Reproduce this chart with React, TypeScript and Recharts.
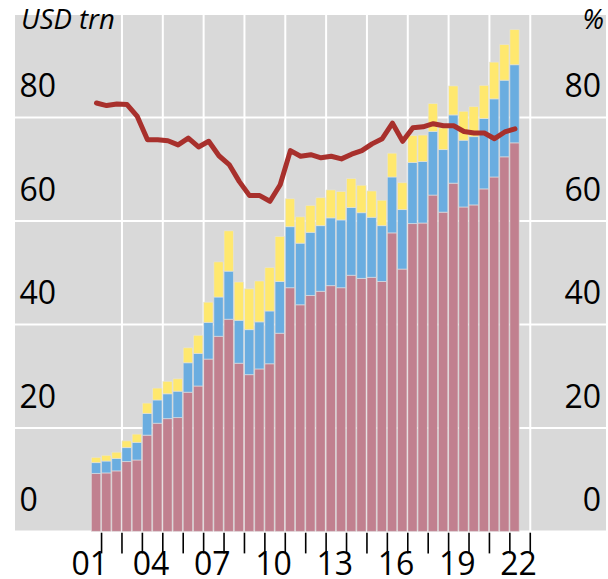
import { ComposedChart, Bar, Line, XAxis, YAxis, CartesianGrid, ReferenceLine } from 'recharts'

// half-year observations, H2 2001 to H1 2022
const periods = [
  'H2 01', 'H1 02', 'H2 02', 'H1 03', 'H2 03', 'H1 04', 'H2 04', 'H1 05', 'H2 05', 'H1 06', 'H2 06',
  'H1 07', 'H2 07', 'H1 08', 'H2 08', 'H1 09', 'H2 09', 'H1 10', 'H2 10', 'H1 11', 'H2 11',
  'H1 12', 'H2 12', 'H1 13', 'H2 13', 'H1 14', 'H2 14', 'H1 15', 'H2 15', 'H1 16', 'H2 16',
  'H1 17', 'H2 17', 'H1 18', 'H2 18', 'H1 19', 'H2 19', 'H1 20', 'H2 20', 'H1 21', 'H2 21', 'H1 22',
]

// USD trn
const fxSwaps = [
  11.2, 11.3, 11.7, 13.5, 13.8, 18.6, 20.9, 21.8, 22.0, 26.9, 28.1,
  33.3, 37.7, 41.0, 32.5, 30.3, 31.4, 32.4, 38.3, 47.1, 43.8,
  45.6, 46.4, 47.5, 47.1, 49.5, 48.9, 49.1, 48.3, 57.7, 50.7,
  59.5, 59.6, 65.0, 61.7, 67.3, 62.7, 63.1, 66.2, 68.5, 72.4, 75.1,
]
const forwards = [
  2.1, 2.3, 2.4, 2.7, 3.4, 4.2, 4.5, 4.8, 5.1, 5.7, 6.3,
  7.1, 7.6, 9.3, 8.3, 8.7, 9.1, 10.2, 10.0, 11.8, 11.9,
  12.2, 12.7, 13.1, 13.1, 13.1, 12.7, 11.6, 10.8, 10.8, 11.5,
  11.8, 11.9, 12.3, 12.1, 13.2, 12.9, 13.2, 13.6, 15.1, 14.8, 15.1,
]
const currencySwaps = [
  1.0, 1.1, 1.2, 1.3, 1.6, 2.0, 2.3, 2.4, 2.4, 2.9, 3.5,
  3.9, 6.8, 7.8, 7.4, 7.9, 7.9, 8.4, 8.7, 5.4, 5.1,
  5.2, 5.4, 5.4, 5.5, 5.6, 5.3, 5.1, 4.9, 4.6, 5.2,
  5.2, 5.1, 5.4, 4.2, 5.6, 5.6, 5.8, 6.4, 7.1, 6.9, 6.8,
]
// %
const usdShare = [
  82.8, 82.3, 82.6, 82.5, 80.2, 75.7, 75.7, 75.5, 74.7, 76.0, 74.3,
  75.4, 72.6, 70.9, 67.6, 64.9, 64.9, 63.8, 67.0, 73.6, 72.5,
  72.8, 72.2, 72.5, 72.0, 72.9, 73.6, 74.9, 75.9, 78.9, 75.4,
  78.0, 78.2, 78.8, 78.4, 78.4, 77.3, 77.0, 77.0, 75.9, 77.2, 77.8,
]

const yTicks = [0, 20, 40, 60, 80]
const yearTicks = [
  2002, 2003, 2004, 2005, 2006, 2007, 2008, 2009, 2010, 2011, 2012,
  2013, 2014, 2015, 2016, 2017, 2018, 2019, 2020, 2021, 2022, 2023,
]
const gridYears = [2003, 2005, 2007, 2009, 2011, 2013, 2015, 2017, 2019, 2021, 2023]
const labelYears = [2001, 2004, 2007, 2010, 2013, 2016, 2019, 2022]

// position of each half year on a continuous year axis (mid-period)
const toTime = (p: string) => 2000 + Number(p.slice(3)) + (p.startsWith('H1') ? 0.25 : 0.75)

const data = periods.map((period, i) => ({
  period,
  t: toTime(period),
  fxSwaps: fxSwaps[i],
  forwards: forwards[i],
  currencySwaps: currencySwaps[i],
  usdShare: usdShare[i],
}))

// year labels sit in the middle of their year, tick marks on year boundaries
const xTicks = [...yearTicks, ...labelYears.map((y) => y + 0.5)].sort((a, b) => a - b)

const YEAR_DOMAIN: [number, number] = [1997.76, 2026.71]
const FONT = '"Open Sans", "Noto Sans", sans-serif'

function LeftTick({ x, y, payload }: any) {
  return (
    <text x={x} y={y - 20} textAnchor="start" fontSize={32} fontFamily={FONT} fill="#000">
      {payload.value}
    </text>
  )
}

function RightTick({ x, y, payload }: any) {
  return (
    <text x={x} y={y - 20} textAnchor="end" fontSize={32} fontFamily={FONT} fill="#000">
      {payload.value}
    </text>
  )
}

function YearTick({ x, y, payload }: any) {
  const v = payload.value
  if (Number.isInteger(v)) {
    return <line x1={x} x2={x} y1={y + 1.3} y2={y + 22} stroke="#000" strokeWidth={1.6} />
  }
  const label = String(Math.floor(v) % 100).padStart(2, '0')
  return (
    <text x={x - 1.5} y={y + 43.6} textAnchor="middle" fontSize={32} fontFamily={FONT} fill="#000">
      {label}
    </text>
  )
}

export default function App() {
  return (
    <div style={{ position: 'absolute', left: 0, top: 0, width: 608, height: 579, background: '#fff' }}>
      <ComposedChart
        width={608}
        height={579}
        data={data}
        margin={{ top: 14, right: 2, bottom: 0, left: 15 }}
      >
        <XAxis
          xAxisId="x"
          dataKey="t"
          type="number"
          domain={YEAR_DOMAIN}
          allowDataOverflow
          ticks={xTicks}
          height={47.6}
          axisLine={false}
          tickLine={false}
          tickSize={0}
          tickMargin={0}
          tick={<YearTick />}
          interval={0}
        />
        <YAxis
          yAxisId="left"
          domain={[0, 100]}
          ticks={yTicks}
          width={1}
          mirror
          axisLine={false}
          tickLine={false}
          tickSize={0}
          tickMargin={4.5}
          tick={<LeftTick />}
          interval={0}
        />
        <YAxis
          yAxisId="right"
          orientation="right"
          domain={[0, 100]}
          ticks={yTicks}
          width={1}
          mirror
          axisLine={false}
          tickLine={false}
          tickSize={0}
          tickMargin={5}
          tick={<RightTick />}
          interval={0}
        />
        <CartesianGrid
          xAxisId="x"
          yAxisId="left"
          vertical={false}
          fill="#d9d9d9"
          fillOpacity={1}
          stroke="#ffffff"
          strokeWidth={2}
        />
        {gridYears.map((yr) => (
          <ReferenceLine key={yr} xAxisId="x" yAxisId="left" x={yr} stroke="#ffffff" strokeWidth={2} zIndex={-50} />
        ))}
        <Bar xAxisId="x" yAxisId="left" dataKey="fxSwaps" stackId="a" barSize={9.4} fill="#c1808f" stroke="#e2e2e2" strokeWidth={0.6} isAnimationActive={false} />
        <Bar xAxisId="x" yAxisId="left" dataKey="forwards" stackId="a" barSize={9.4} fill="#6aade0" stroke="#e2e2e2" strokeWidth={0.6} isAnimationActive={false} />
        <Bar xAxisId="x" yAxisId="left" dataKey="currencySwaps" stackId="a" barSize={9.4} fill="#ffe86e" stroke="#e2e2e2" strokeWidth={0.6} isAnimationActive={false} />
        <Line
          xAxisId="x"
          yAxisId="right"
          dataKey="usdShare"
          type="linear"
          stroke="#a8302c"
          strokeWidth={5}
          strokeLinejoin="round"
          strokeLinecap="round"
          dot={false}
          activeDot={false}
          isAnimationActive={false}
        />
      </ComposedChart>
      <svg width={608} height={579} style={{ position: 'absolute', left: 0, top: 0, pointerEvents: 'none' }}>
        <text x={21} y={29.3} fontSize={27.5} fontStyle="italic" fontFamily={FONT} fill="#000">
          USD trn
        </text>
        <text x={604} y={29} textAnchor="end" fontSize={27} fontStyle="italic" fontFamily={FONT} fill="#000">
          %
        </text>
      </svg>
    </div>
  )
}
